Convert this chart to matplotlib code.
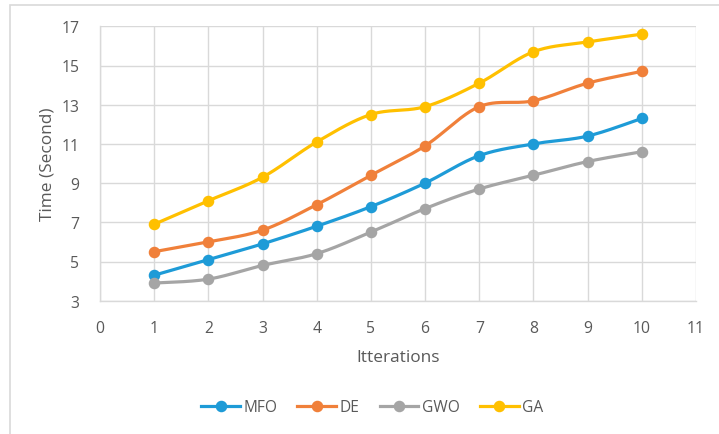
import numpy as np
import matplotlib
matplotlib.use("Agg")
import matplotlib.pyplot as plt
from matplotlib.lines import Line2D
from matplotlib.patches import Rectangle

iterations = [1, 2, 3, 4, 5, 6, 7, 8, 9, 10]
mfo = [4.3, 5.1, 5.9, 6.8, 7.8, 9.0, 10.4, 11.0, 11.4, 12.3]
de = [5.5, 6.0, 6.6, 7.9, 9.4, 10.9, 12.9, 13.2, 14.1, 14.7]
gwo = [3.9, 4.1, 4.8, 5.4, 6.5, 7.7, 8.7, 9.4, 10.1, 10.6]
ga = [6.9, 8.1, 9.3, 11.1, 12.5, 12.9, 14.1, 15.7, 16.2, 16.6]
series_names = ["MFO", "DE", "GWO", "GA"]
colors = ["#1E9BD7", "#F0803A", "#A5A5A5", "#FFC000"]
x_ticks = list(range(0, 12))
y_ticks = [3, 5, 7, 9, 11, 13, 15, 17]

plt.rcParams['font.family'] = ['Open Sans', 'DejaVu Sans']
TXT = "#595959"
GRID = "#D9D9D9"


def smooth(x, y, n=30):
    x = np.asarray(x, float)
    y = np.asarray(y, float)
    xs, ys = [], []
    m = len(x)
    for i in range(m - 1):
        p0 = np.array([x[max(i - 1, 0)], y[max(i - 1, 0)]])
        p1 = np.array([x[i], y[i]])
        p2 = np.array([x[i + 1], y[i + 1]])
        p3 = np.array([x[min(i + 2, m - 1)], y[min(i + 2, m - 1)]])
        c1 = p1 + (p2 - p0) / 6.0
        c2 = p2 - (p3 - p1) / 6.0
        t = np.linspace(0, 1, n)[:, None]
        pts = ((1 - t) ** 3) * p1 + 3 * ((1 - t) ** 2) * t * c1 + 3 * (1 - t) * t ** 2 * c2 + t ** 3 * p2
        xs.extend(pts[:, 0])
        ys.extend(pts[:, 1])
    return np.array(xs), np.array(ys)


W, H = 719, 435
fig = plt.figure(figsize=(W / 100, H / 100), dpi=100)
fig.patches.append(Rectangle((10 / W, -0.1), 1.2, 1 - 6 / H + 0.1, transform=fig.transFigure,
                             fill=False, edgecolor=GRID, linewidth=1.2))

left, right, top, bottom = 100, 696, 27.3, 301.7
ax = fig.add_axes([left / W, 1 - bottom / H, (right - left) / W, (bottom - top) / H])

for vals, name, c in zip([mfo, de, gwo, ga], series_names, colors):
    sx, sy = smooth(iterations, vals)
    ax.plot(sx, sy, color=c, linewidth=2.3, solid_capstyle='round', zorder=3)
    ax.plot(iterations, vals, linestyle='none', marker='o', markersize=7.3, color=c, zorder=4)

ax.set_xlim(0, 11)
ax.set_ylim(3, 17)
ax.set_xticks(x_ticks)
ax.set_yticks(y_ticks)
ax.grid(True, color=GRID, linewidth=1.0)
ax.set_axisbelow(True)
for s in ax.spines.values():
    s.set_visible(False)
ax.spines['left'].set_visible(True)
ax.spines['bottom'].set_visible(True)
ax.spines['left'].set_color(GRID)
ax.spines['bottom'].set_color(GRID)
ax.spines['left'].set_linewidth(1.0)
ax.spines['bottom'].set_linewidth(1.0)
ax.tick_params(length=0, labelsize=11.3, colors=TXT)
ax.tick_params(axis='x', pad=14)
ax.tick_params(axis='y', pad=15)
ax.set_xlabel("Itterations", fontsize=12.4, color=TXT, labelpad=9)
ax.set_ylabel("Time (Second)", fontsize=12.4, color=TXT, labelpad=4)

handles = [Line2D([0], [0], color=c, linewidth=2.3, marker='o', markersize=7.3) for c in colors]
fig.legend(handles, series_names, loc='center', bbox_to_anchor=(372 / W, 1 - 408 / H),
           ncol=4, frameon=False, fontsize=11.2, labelcolor=TXT, handlelength=2.5,
           columnspacing=1.3, handletextpad=0.2)

fig.savefig("out.png", dpi=100)
